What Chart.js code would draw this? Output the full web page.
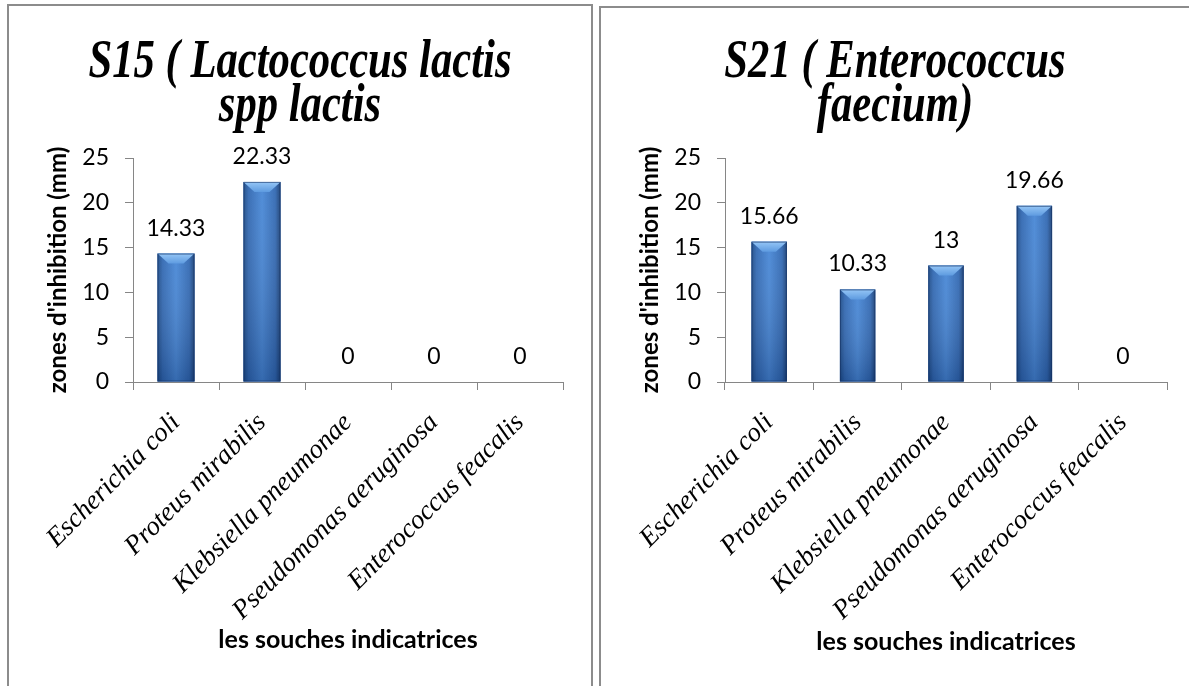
<!DOCTYPE html>
<html>
<head>
<meta charset="utf-8">
<script src="https://cdn.jsdelivr.net/npm/chart.js@4.4.1/dist/chart.umd.min.js"></script>
<style>
  html, body { margin: 0; padding: 0; background: #fff; width: 1189px; height: 686px; overflow: hidden; }
  .panel { position: absolute; border: 2px solid #8c8c8c; background: #fff; box-sizing: border-box; }
  #p1 { left: 7px; top: 4px; width: 586px; height: 720px; }
  #p2 { left: 599px; top: 6px; width: 610px; height: 720px; }
  .panel canvas { position: absolute; left: 0; top: 0; }
</style>
</head>
<body>
<div class="panel" id="p1"><canvas id="c1" width="582" height="680"></canvas></div>
<div class="panel" id="p2"><canvas id="c2" width="588" height="680"></canvas></div>
<script>
// Indicator strains tested against each isolate
const strains = [
  'Escherichia coli',
  'Proteus mirabilis',
  'Klebsiella pneumonae',
  'Pseudomonas aeruginosa',
  'Enterococcus feacalis'
];

// Inhibition zone diameters (mm)
const s15Values = [14.33, 22.33, 0, 0, 0];
const s21Values = [15.66, 10.33, 13, 19.66, 0];

// Chart titles (one entry per line)
const s15Title = ['S15 ( Lactococcus lactis', 'spp lactis'];
const s21Title = ['S21 ( Enterococcus', 'faecium)'];

// Axis texts and y ticks
const yAxisTitle = "zones d'inhibition (mm)";
const xAxisTitle = 'les souches indicatrices';
const yMin = 0, yMax = 25, yStep = 5;

const axisGray = '#868686';

// Condensed bold-italic serif title, drawn in the space reserved above the plot
const condensedTitle = {
  id: 'condensedTitle',
  afterDraw(chart, args, opts) {
    const ctx = chart.ctx;
    ctx.save();
    ctx.font = 'italic bold ' + opts.size + 'px "Liberation Serif"';
    ctx.fillStyle = '#000';
    ctx.textAlign = 'center';
    ctx.textBaseline = 'alphabetic';
    opts.lines.forEach((line, i) => {
      ctx.save();
      ctx.translate(chart.width / 2, opts.baseline + i * opts.gap);
      ctx.scale(opts.squeeze, 1);
      ctx.fillText(line, 0, 0);
      ctx.restore();
    });
    ctx.restore();
  }
};

// Shaded, bevelled bars plus value labels above each bar
const barStyle = {
  id: 'barStyle',
  afterDatasetsDraw(chart) {
    const ctx = chart.ctx;
    const meta = chart.getDatasetMeta(0);
    const values = chart.data.datasets[0].data;
    ctx.save();
    meta.data.forEach((el, i) => {
      const { x, y, base, width } = el.getProps(['x', 'y', 'base', 'width'], true);
      const h = base - y;
      const l = x - width / 2, r = x + width / 2;
      if (h > 1) {
        const g = ctx.createLinearGradient(l, 0, r, 0);
        g.addColorStop(0, '#1c4a86');
        g.addColorStop(0.14, '#3168b2');
        g.addColorStop(0.5, '#4787d6');
        g.addColorStop(0.86, '#3168b2');
        g.addColorStop(1, '#1a3f74');
        ctx.fillStyle = g;
        ctx.fillRect(l, y, width, h);
        const gv = ctx.createLinearGradient(0, y, 0, base);
        gv.addColorStop(0, 'rgba(255,255,255,0.05)');
        gv.addColorStop(1, 'rgba(0,20,60,0.25)');
        ctx.fillStyle = gv;
        ctx.fillRect(l, y, width, h);
        // top bevel
        const b = Math.min(10, h / 2);
        const gt = ctx.createLinearGradient(0, y, 0, y + b);
        gt.addColorStop(0, '#95c6f6');
        gt.addColorStop(1, '#5e9be0');
        ctx.fillStyle = gt;
        ctx.beginPath();
        ctx.moveTo(l, y);
        ctx.lineTo(r, y);
        ctx.lineTo(r - b * 1.1, y + b);
        ctx.lineTo(l + b * 1.1, y + b);
        ctx.closePath();
        ctx.fill();
        ctx.strokeStyle = 'rgba(20,50,100,0.6)';
        ctx.lineWidth = 1;
        ctx.strokeRect(l + 0.5, y + 0.5, width - 1, h - 1);
      }
      ctx.fillStyle = '#000';
      ctx.font = '23px Lato';
      ctx.textAlign = 'center';
      ctx.textBaseline = 'alphabetic';
      ctx.fillText(String(values[i]), x, y - 18);
    });
    ctx.restore();
  }
};

function makeChart(canvasId, titleLines, values, barPct, rightPad, canvasTop) {
  return new Chart(document.getElementById(canvasId), {
    type: 'bar',
    data: {
      labels: strains,
      datasets: [{
        data: values,
        backgroundColor: '#3a70bd',
        borderWidth: 0,
        categoryPercentage: 1,
        barPercentage: barPct
      }]
    },
    options: {
      responsive: false,
      animation: false,
      layout: { padding: { left: 0, right: rightPad, top: 158 - canvasTop, bottom: 0 } },
      plugins: {
        legend: { display: false },
        tooltip: { enabled: false },
        title: { display: false },
        condensedTitle: { lines: titleLines, size: 54, squeeze: 0.79, baseline: 77 - canvasTop, gap: 44 }
      },
      scales: {
        x: {
          afterFit(scale) { scale.height = 686 - 382 + (canvasTop - 6); },
          grid: { display: true, drawOnChartArea: false, drawTicks: true, tickLength: 8, color: axisGray, offset: true },
          border: { display: true, color: axisGray, width: 1 },
          ticks: {
            color: '#000',
            maxRotation: 45,
            minRotation: 45,
            padding: 17,
            autoSkip: false,
            font: { family: 'Liberation Serif', size: 27, style: 'italic' }
          },
          title: {
            display: true,
            text: xAxisTitle,
            color: '#000',
            font: { family: 'Lato', size: 25, weight: 'bold' },
            padding: { top: 31, bottom: 31 }
          }
        },
        y: {
          min: yMin,
          max: yMax,
          afterFit(scale) { scale.width = 124; },
          grid: { display: true, drawOnChartArea: false, drawTicks: true, tickLength: 8, color: axisGray },
          border: { display: true, color: axisGray, width: 1 },
          ticks: {
            stepSize: yStep,
            color: '#000',
            padding: 16,
            font: { family: 'Lato', size: 23 }
          },
          title: {
            display: true,
            text: yAxisTitle,
            color: '#000',
            font: { family: 'Lato', size: 24, weight: 'bold' },
            padding: { top: 35, bottom: 0 }
          }
        }
      }
    },
    plugins: [barStyle, condensedTitle]
  });
}

makeChart('c1', s15Title, s15Values, 0.43, 28, 6);
makeChart('c2', s21Title, s21Values, 0.40, 22, 8);
</script>
</body>
</html>
